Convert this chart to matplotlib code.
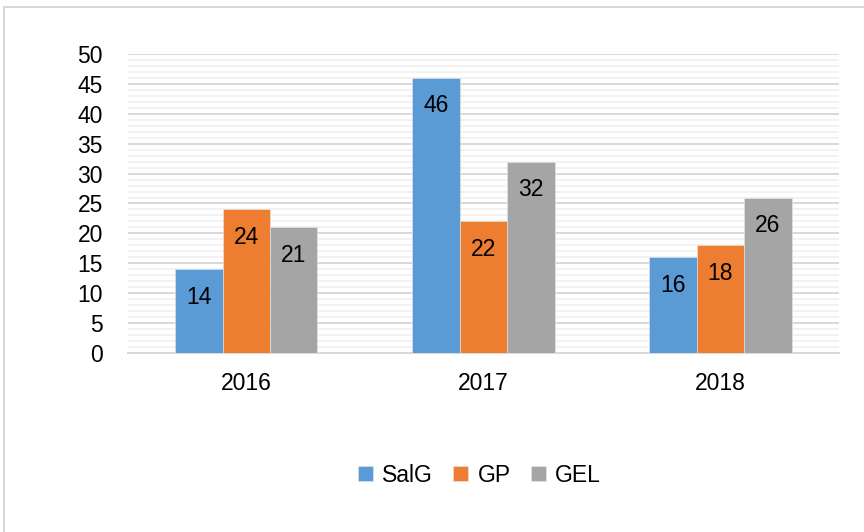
import matplotlib.pyplot as plt
import numpy as np
from matplotlib.patches import Rectangle
from matplotlib.ticker import MultipleLocator

years = ["2016", "2017", "2018"]
series = ["SalG", "GP", "GEL"]
salg = [14, 46, 16]
gp = [24, 22, 18]
gel = [21, 32, 26]

COLORS = ["#5B9BD5", "#ED7D31", "#A5A5A5"]

plt.rcParams["font.family"] = ["Liberation Sans Narrow", "Liberation Sans", "DejaVu Sans"]

fig = plt.figure(figsize=(8.64, 5.32), dpi=100)
ax = fig.add_axes([0.148, 0.3365, 0.823, 0.562])

x = np.arange(len(years))
width = 0.2
for i, (name, vals) in enumerate(zip(series, [salg, gp, gel])):
    bars = ax.bar(x + (i - 1) * width, vals, width, color=COLORS[i], label=name,
                  edgecolor="#e8e8e8", linewidth=0.4, zorder=3)
    for b, v in zip(bars, vals):
        ax.annotate(str(v), (b.get_x() + b.get_width() / 2, v), xytext=(0, -20),
                    textcoords="offset points", ha="center", va="center",
                    fontsize=16.5, color="black", zorder=4)

ax.set_xlim(-0.5, 2.5)
ax.set_ylim(0, 50)
ax.yaxis.set_major_locator(MultipleLocator(5))
ax.yaxis.set_minor_locator(MultipleLocator(1))
ax.grid(axis="y", which="major", color="#d9d9d9", linewidth=1.4, zorder=0)
ax.grid(axis="y", which="minor", color="#f0f0f0", linewidth=1.2, zorder=0)
ax.set_axisbelow(True)
ax.set_xticks(x)
ax.set_xticklabels(years)
ax.tick_params(axis="both", which="both", length=0, labelsize=16.5)
ax.tick_params(axis="y", pad=18)
ax.tick_params(axis="x", pad=14)
for s in ["top", "right", "left"]:
    ax.spines[s].set_visible(False)
ax.spines["bottom"].set_color("#d9d9d9")
ax.spines["bottom"].set_linewidth(1.4)

fig.legend(loc="center", bbox_to_anchor=(0.555, 0.107), ncol=3, frameon=False,
           fontsize=16.5, handlelength=0.65, handleheight=0.65, handletextpad=0.4,
           columnspacing=0.9)

fig.patches.append(Rectangle((3.5 / 864, -0.1), 1.2, 1.1 - 6.5 / 532, transform=fig.transFigure,
                             fill=False, edgecolor="#d9d9d9", linewidth=1.5))

fig.savefig("out.png", dpi=100)
